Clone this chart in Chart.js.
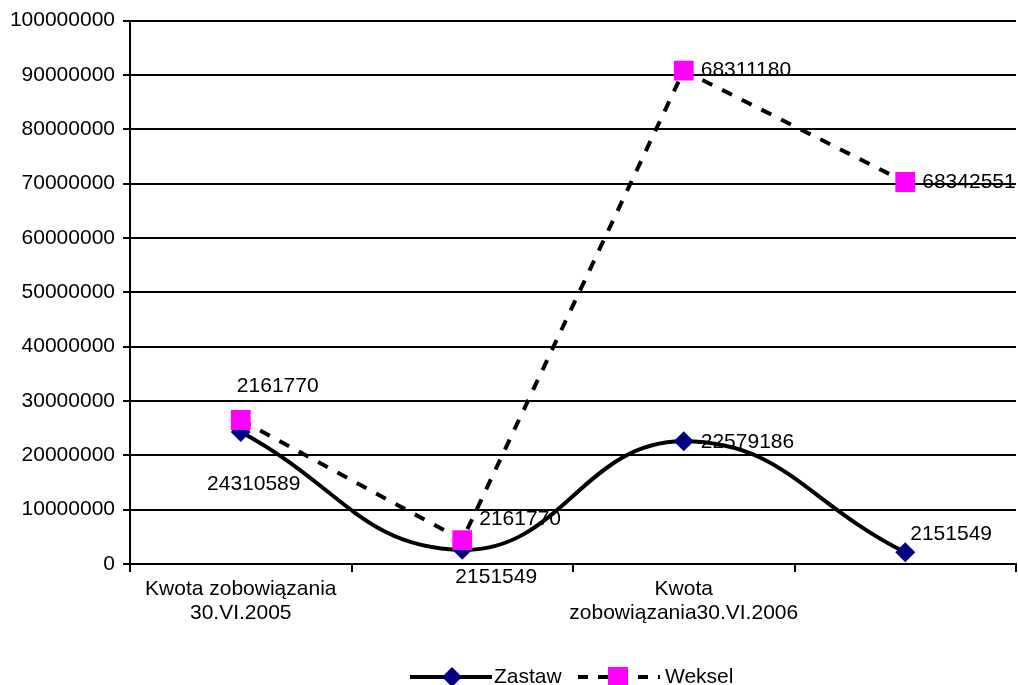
<!DOCTYPE html>
<html>
<head>
<meta charset="utf-8">
<script src="https://cdn.jsdelivr.net/npm/chart.js"></script>
<style>
  html, body { margin: 0; padding: 0; background: #fff; }
</style>
</head>
<body>
<canvas id="line-chart" width="1018" height="685"></canvas>
<script>
const categories = [["Kwota zobowiązania", "30.VI.2005"], "", ["Kwota", "zobowiązania30.VI.2006"], ""];
const zastawValues = [24310589, 2600000, 22579186, 2151549];
const wekselValues = [26500000, 4400000, 90800000, 70300000];
const zastawLabels = ["24310589", "2151549", "22579186", "2151549"];
const wekselLabels = ["2161770", "2161770", "68311180", "68342551"];
const yTicks = { min: 0, max: 100000000, step: 10000000 };

const FONT = '"Liberation Sans", Arial, sans-serif';
Chart.defaults.font.family = FONT;
Chart.defaults.font.size = 21;
Chart.defaults.color = '#000';

// where each data label sits relative to its point [dx, dy, align]
const zastawLabelPos = [[13, 52, 'center'], [34, 27, 'center'], [17, 1, 'left'], [5, -18, 'left']];
const wekselLabelPos = [[37, -34, 'center'], [17, -21, 'left'], [17, 0, 'left'], [17, 0, 'left']];

const pointLabels = {
    id: 'pointLabels',
    afterDatasetsDraw(chart) {
        const ctx = chart.ctx;
        ctx.save();
        ctx.font = '21px ' + FONT;
        ctx.fillStyle = '#000';
        ctx.textBaseline = 'middle';
        const sets = [[0, zastawLabels, zastawLabelPos], [1, wekselLabels, wekselLabelPos]];
        sets.forEach(([i, texts, pos]) => {
            chart.getDatasetMeta(i).data.forEach((pt, j) => {
                ctx.textAlign = pos[j][2];
                ctx.fillText(texts[j], pt.x + pos[j][0], pt.y + pos[j][1]);
            });
        });
        ctx.restore();
    }
};

const bottomLegend = {
    id: 'bottomLegend',
    afterDraw(chart) {
        const ctx = chart.ctx;
        const y = 677;
        ctx.save();
        ctx.strokeStyle = '#000';
        ctx.lineWidth = 4;
        ctx.beginPath();
        ctx.moveTo(410, y);
        ctx.lineTo(492, y);
        ctx.stroke();
        ctx.fillStyle = '#000080';
        ctx.beginPath();
        ctx.moveTo(452, y - 10); ctx.lineTo(462, y); ctx.lineTo(452, y + 10); ctx.lineTo(442, y);
        ctx.closePath();
        ctx.fill();

        ctx.setLineDash([10, 10]);
        ctx.beginPath();
        ctx.moveTo(578, y);
        ctx.lineTo(660, y);
        ctx.stroke();
        ctx.setLineDash([]);
        ctx.fillStyle = '#FF00FF';
        ctx.fillRect(608, y - 10, 20, 20);

        ctx.fillStyle = '#000';
        ctx.font = '21px ' + FONT;
        ctx.textBaseline = 'middle';
        ctx.textAlign = 'left';
        ctx.fillText('Zastaw', 494, y);
        ctx.fillText('Weksel', 665, y);
        ctx.restore();
    }
};

new Chart(document.getElementById('line-chart'), {
    type: 'line',
    data: {
        labels: categories,
        datasets: [{
            label: 'Zastaw',
            data: zastawValues,
            borderColor: '#000',
            borderWidth: 4,
            tension: 0.45,
            pointStyle: 'rectRot',
            pointRadius: 10,
            pointBackgroundColor: '#000080',
            pointBorderWidth: 0,
            order: 1
        }, {
            label: 'Weksel',
            data: wekselValues,
            borderColor: '#000',
            borderWidth: 4,
            borderDash: [11, 11],
            tension: 0,
            pointStyle: 'rect',
            pointRadius: 14,
            pointBackgroundColor: '#FF00FF',
            pointBorderWidth: 0,
            order: 0
        }]
    },
    options: {
        responsive: false,
        animation: false,
        devicePixelRatio: 1,
        layout: { autoPadding: false, padding: { top: 12, right: 2, bottom: 0, left: 0 } },
        plugins: {
            legend: { display: false },
            tooltip: { enabled: false }
        },
        scales: {
            x: {
                offset: true,
                afterFit(scale) {
                    scale.height = 121;
                    scale.paddingLeft = 0;
                    scale.paddingRight = 0;
                },
                grid: {
                    offset: true,
                    drawOnChartArea: false,
                    color: '#000',
                    lineWidth: 2,
                    tickLength: 8
                },
                border: { color: '#000', width: 2 },
                ticks: {
                    maxRotation: 0,
                    autoSkip: false,
                    padding: 5,
                    font: { size: 21, lineHeight: 1.15 }
                }
            },
            y: {
                min: yTicks.min,
                max: yTicks.max,
                afterFit(scale) { scale.width = 130; },
                grid: {
                    color: '#000',
                    lineWidth: 2,
                    tickLength: 7
                },
                border: { color: '#000', width: 2 },
                ticks: {
                    stepSize: yTicks.step,
                    padding: 8,
                    callback: v => String(v)
                }
            }
        }
    },
    plugins: [pointLabels, bottomLegend]
});
</script>
</body>
</html>
